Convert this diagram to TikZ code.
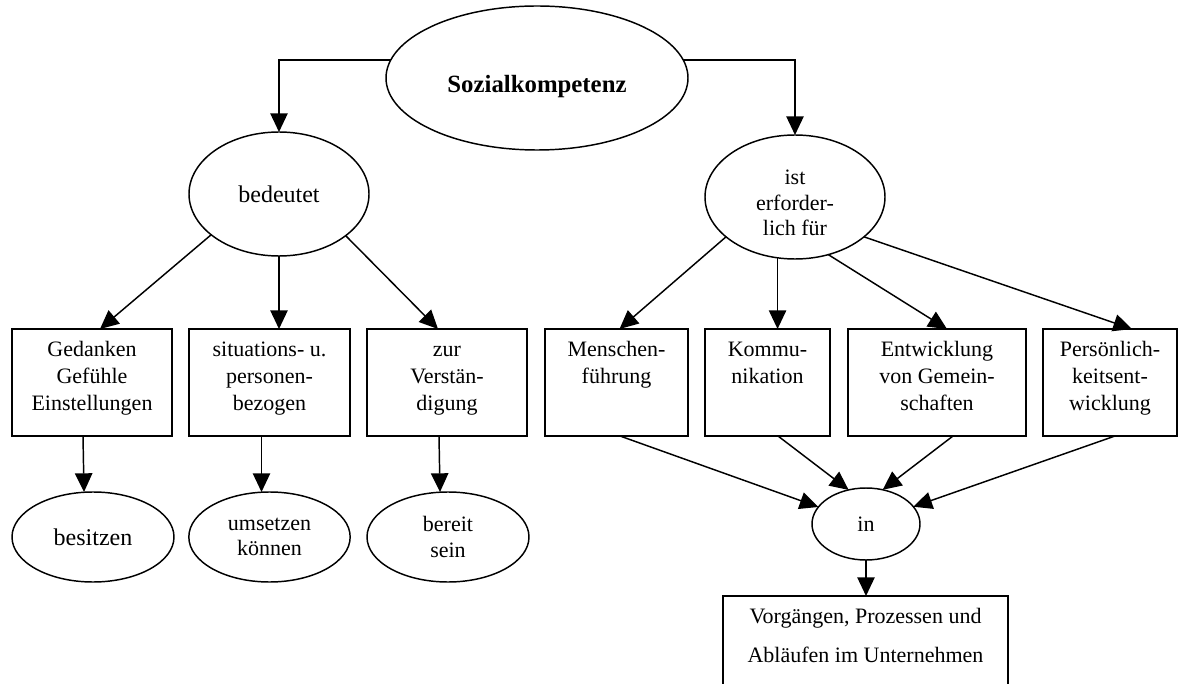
\documentclass[tikz,border=0pt]{standalone}
\usepackage{fontspec}
\setmainfont{Liberation Serif}
\usetikzlibrary{shapes.geometric,arrows.meta,calc}
\begin{document}
\begin{tikzpicture}[x=0.75pt,y=-0.75pt,
  every node/.style={inner sep=0pt, outer sep=0pt},
  oval/.style={draw, line width=1.1pt, ellipse, align=center,
    font=\fontsize{16.5pt}{19pt}\selectfont},
  bigoval/.style={oval, font=\fontsize{18pt}{21pt}\selectfont},
  frame/.style={draw, line width=1.1pt, rectangle},
  boxtext/.style={anchor=north, align=center,
    font=\fontsize{16.5pt}{20.25pt}\selectfont},
  arr/.style={line width=1.1pt, -{Triangle[length=14pt,width=13pt]}},
]
\fill[white] (0,0) rectangle (1179,684);
\useasboundingbox (0,0) rectangle (1179,684);

% top concept (the strut lowers the title a little inside the oval)
\node[oval, minimum width=226.5pt, minimum height=108pt,
  font=\bfseries\fontsize{18.6pt}{21pt}\selectfont] (soz) at (537,78)
  {\rule{0pt}{26pt}Sozialkompetenz};

% second level
\node[bigoval, minimum width=135pt, minimum height=93pt] (bed) at (279,194) {bedeutet};
\node[oval, minimum width=135pt, minimum height=93pt] (ist) at (795,197)
  {\rule{0pt}{20pt}ist\\erforder-\\lich für};

% left branch boxes
\node[frame, minimum width=120pt, minimum height=80.25pt] (b1) at (92,382.5) {};
\node[boxtext] (b1t) at ($(b1.north)+(0,9)$) {\strut Gedanken\\Gefühle\\Einstellungen};
\node[frame, minimum width=120.75pt, minimum height=80.25pt] (b2) at (269.5,382.5) {};
\node[boxtext] (b2t) at ($(b2.north)+(0,9)$) {\strut situations- u.\\personen-\\bezogen};
\node[frame, minimum width=120pt, minimum height=80.25pt] (b3) at (447,382.5) {};
\node[boxtext] (b3t) at ($(b3.north)+(0,9)$) {\strut zur\\Verstän-\\digung};

% left branch ovals
\node[bigoval, minimum width=121.5pt, minimum height=67.5pt] (e1) at (93,537) {besitzen};
\node[oval, minimum width=121pt, minimum height=67.5pt] (e2) at (269.5,537) {umsetzen\\können};
\node[oval, minimum width=121.5pt, minimum height=67.5pt] (e3) at (448,537) {bereit\\sein};

% right branch boxes
\node[frame, minimum width=107.25pt, minimum height=80.25pt] (r1) at (616.5,382.5) {};
\node[boxtext] (r1t) at ($(r1.north)+(0,9)$) {\strut Menschen-\\führung};
\node[frame, minimum width=93.75pt, minimum height=80.25pt] (r2) at (767.5,382.5) {};
\node[boxtext] (r2t) at ($(r2.north)+(0,9)$) {\strut Kommu-\\nikation};
\node[frame, minimum width=133.5pt, minimum height=80.25pt] (r3) at (937,382.5) {};
\node[boxtext] (r3t) at ($(r3.north)+(0,9)$) {\strut Entwicklung\\von Gemein-\\schaften};
\node[frame, minimum width=100.5pt, minimum height=80.25pt] (r4) at (1110,382.5) {};
\node[boxtext] (r4t) at ($(r4.north)+(0,9)$) {\strut Persönlich-\\keitsent-\\wicklung};

% joining oval and final box
\node[oval, minimum width=81pt, minimum height=54pt] (via) at (866,524) {in};
\node[frame, minimum width=213.75pt, minimum height=78pt] (bb) at (865.5,648) {};
\node[anchor=north, align=center, font=\fontsize{16.5pt}{29.25pt}\selectfont] (bbt)
  at (bb.north) {\strut Vorgängen, Prozessen und\\Abläufen im Unternehmen};

% connectors
\draw[arr] (soz.173) -| (bed.north);
\draw[arr] (soz.7) -| (ist.north);

\draw[arr] (bed.211) -- ($(b1.north)+(8,0)$);
\draw[arr] (bed.south) -- (bed.south |- b2.north);
\draw[arr] (bed.328) -- ($(b3.north)+(-9,0)$);

\draw[arr] ($(b1.south)+(-9,0)$) -- ($(e1.north)+(-9,0)$);
\draw[arr] ($(b2.south)+(-8,0)$) -- ($(e2.north)+(-8,0)$);
\draw[arr] ($(b3.south)+(-8,0)$) -- ($(e3.north)+(-8,0)$);

\draw[arr] (ist.210) -- ($(r1.north)+(3,0)$);
\draw[arr] (ist.254) -- (ist.254 |- r2.north);
\draw[arr] (ist.300) -- ($(r3.north)+(10,0)$);
\draw[arr] (ist.330) -- ($(r4.north)+(22,0)$);

\draw[arr] ($(r1.south)+(3.5,0)$) -- (via);
\draw[arr] ($(r2.south)+(10.5,0)$) -- (via.117);
\draw[arr] ($(r3.south)+(16,0)$) -- (via.64);
\draw[arr] ($(r4.south)+(5,0)$) -- (via.20);

\draw[arr] (via.south) -- (via.south |- bb.north);
\end{tikzpicture}
\end{document}
